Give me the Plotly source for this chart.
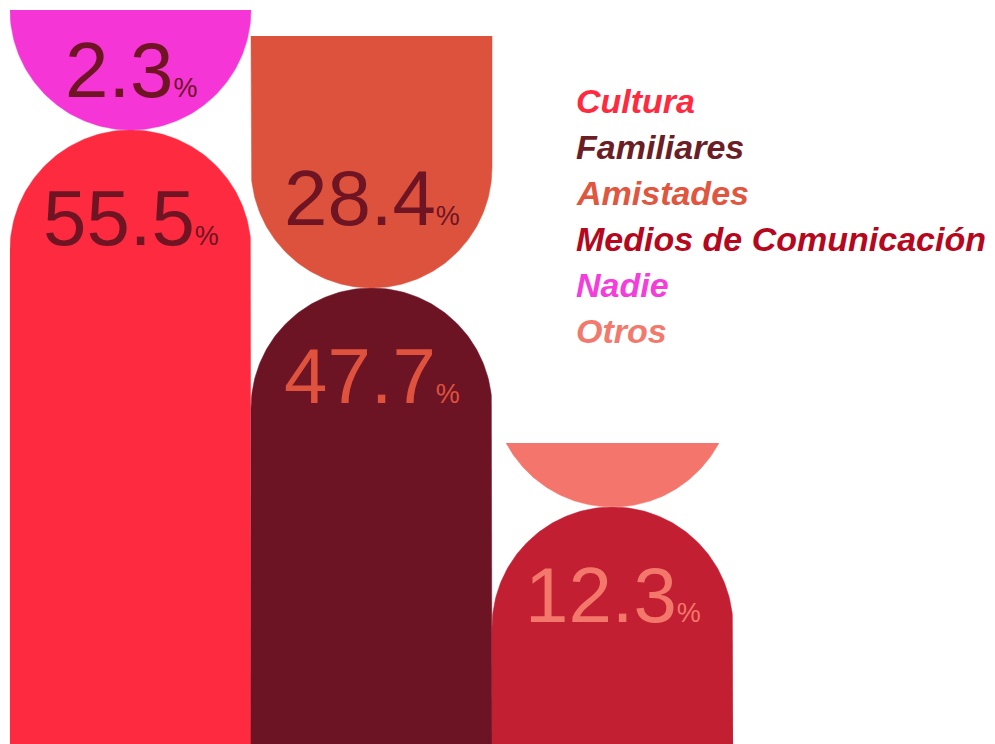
import numpy as np
import plotly.graph_objects as go

# ---- data ----
bottom_names = ["Cultura", "Familiares", "Medios de Comunicación"]
top_names = ["Nadie", "Amistades", "Otros"]
bottom_values = [55.5, 47.7, 12.3]          # % labels
top_values = [2.3, 28.4, None]              # % labels (Otros not labelled)
# extents of the marks on the chart's y scale (0-100)
bottom_heights = [83.65, 62.13, 32.29]      # top of the rounded columns
top_upper = [100.0, 96.46, 41.01]           # flat upper edge of hanging shapes

legend_names = ["Cultura", "Familiares", "Amistades", "Medios de Comunicación", "Nadie", "Otros"]
legend_colors = ["#FF2A40", "#6B1E25", "#E0563F", "#B5071D", "#F53DDB", "#F27A6C"]

bottom_colors = ["#FE2A3F", "#6D1424", "#C21F32"]
top_colors = ["#F535D6", "#DD523D", "#F4756B"]
bottom_label_colors = ["#6E1423", "#DE523E", "#F4776B"]
top_label_colors = ["#6E1423", "#6E1423", "#6E1423"]

# ---- geometry helpers ----
PAGE_OFF = 8                     # default page body margin
W, H = 995 - PAGE_OFF, 744 - PAGE_OFF
ML, MT, MB = 10 - PAGE_OFF, 10 - PAGE_OFF, 0
plot_w = 723
MR = W - ML - plot_w
plot_h = H - MT - MB
x_range = [-0.5, 2.5]
y_range = [0, 100]
px_x = plot_w / (x_range[1] - x_range[0])
px_y = plot_h / (y_range[1] - y_range[0])
half = 0.5
ry = half * px_x / px_y   # vertical radius so caps look circular


def bottom_shape(xc, top):
    cy = top - ry
    t = np.linspace(0, np.pi, 120)
    xs = [xc + half] + list(xc + half * np.cos(t)) + [xc - half]
    ys = [y_range[0]] + list(cy + ry * np.sin(t)) + [y_range[0]]
    return xs, ys


def top_shape(xc, upper, lower):
    cy = lower + ry
    if upper >= cy:
        t = np.linspace(np.pi, 2 * np.pi, 120)
        xs = [xc - half] + list(xc + half * np.cos(t)) + [xc + half]
        ys = [upper] + list(cy + ry * np.sin(t)) + [upper]
    else:
        a = np.arcsin((cy - upper) / ry)
        t = np.linspace(np.pi + a, 2 * np.pi - a, 120)
        xs = list(xc + half * np.cos(t))
        ys = list(cy + ry * np.sin(t))
    return xs, ys


fig = go.Figure()
for i, (name, h, c) in enumerate(zip(bottom_names, bottom_heights, bottom_colors)):
    xs, ys = bottom_shape(i, h)
    fig.add_trace(go.Scatter(x=xs, y=ys, fill="toself", fillcolor=c, mode="lines",
                             line=dict(color=c, width=0.5), name=name, hoverinfo="skip"))
for i, (name, up, c) in enumerate(zip(top_names, top_upper, top_colors)):
    xs, ys = top_shape(i, up, bottom_heights[i])
    fig.add_trace(go.Scatter(x=xs, y=ys, fill="toself", fillcolor=c, mode="lines",
                             line=dict(color=c, width=0.5), name=name, hoverinfo="skip"))

label_font = dict(family="Liberation Sans, Arial", size=78)
off_bottom = 88 / px_y
off_top = 90 / px_y


def label_text(v):
    return f"{v}<span style='font-size:27px'> %</span>".replace(" %", "%")


for i, (v, h, c) in enumerate(zip(bottom_values, bottom_heights, bottom_label_colors)):
    fig.add_annotation(x=i, y=h - off_bottom, xref="x", yref="y", text=label_text(v),
                       showarrow=False, font=dict(label_font, color=c),
                       xanchor="center", yanchor="middle")
for i, (v, up, c) in enumerate(zip(top_values, top_upper, top_label_colors)):
    if v is None:
        continue
    low = bottom_heights[i]
    y = min((up + low) / 2, low + off_top)
    fig.add_annotation(x=i, y=y, xref="x", yref="y", text=label_text(v),
                       showarrow=False, font=dict(label_font, color=c),
                       xanchor="center", yanchor="middle")

# legend as coloured text
leg_x = (574 - 10) / plot_w
for j, (n, c) in enumerate(zip(legend_names, legend_colors)):
    ypx = 101 + 46 * j
    fig.add_annotation(x=leg_x, y=1 - (ypx - 10) / plot_h, xref="paper", yref="paper",
                       text=n, showarrow=False, xanchor="left", yanchor="middle",
                       font=dict(family="Liberation Sans, Arial", size=34, color=c,
                                 weight="bold", style="italic"))

fig.update_layout(
    width=W, height=H, margin=dict(l=ML, r=MR, t=MT, b=MB),
    paper_bgcolor="white", plot_bgcolor="white", showlegend=False,
    xaxis=dict(range=x_range, visible=False, fixedrange=True),
    yaxis=dict(range=y_range, visible=False, fixedrange=True),
    hovermode=False,
)
fig.write_html("out.html")
